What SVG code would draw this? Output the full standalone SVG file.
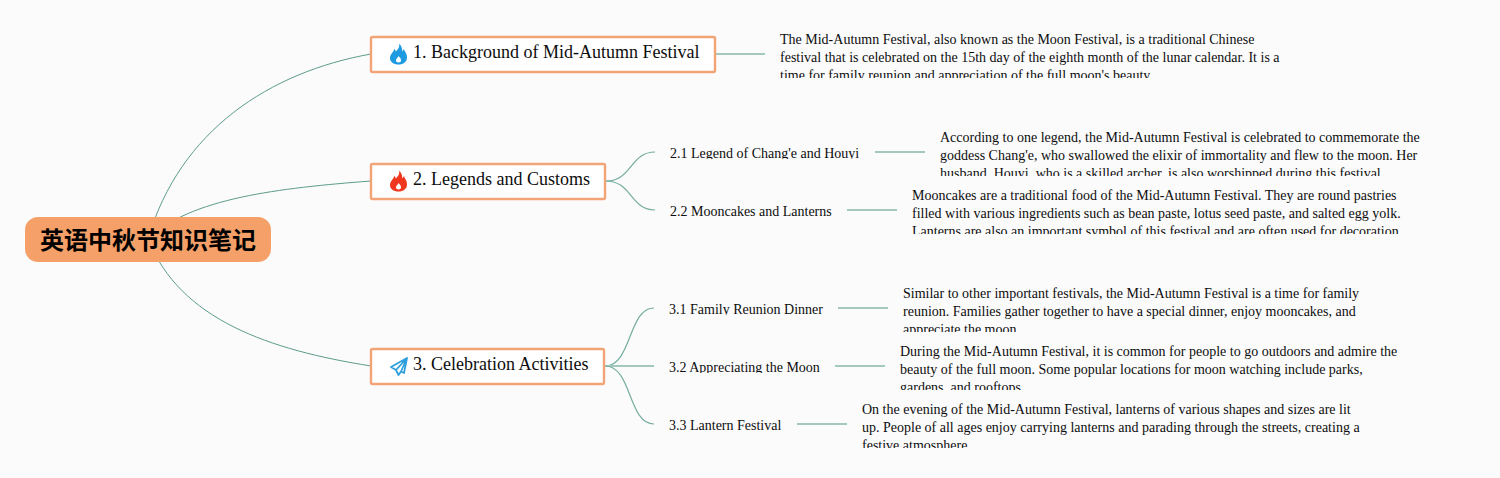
<svg xmlns="http://www.w3.org/2000/svg" width="1500" height="478" viewBox="0 0 1500 478">
<style>
.t{font-family:"Liberation Serif","Times New Roman",serif;fill:#0d0d0d}
.d{font-size:14px}
.s{font-size:14px}
.h{font-size:18px}
.box{fill:#fff;stroke:#f2a477;stroke-width:2.4}
.main{fill:none;stroke:#5c9c8c;stroke-width:1}
.sub{fill:none;stroke:#75ad9e;stroke-width:1.200}
.lead{fill:none;stroke:#a3c9bf;stroke-width:1.800}
</style>
<defs>
<clipPath id="c1"><rect x="770" y="28" width="530" height="50"/></clipPath>
<clipPath id="c2"><rect x="930" y="126" width="500" height="50"/></clipPath>
<clipPath id="c3"><rect x="902" y="184" width="510" height="50"/></clipPath>
<clipPath id="c4"><rect x="893" y="282" width="490" height="50"/></clipPath>
<clipPath id="c5"><rect x="890" y="340" width="520" height="50"/></clipPath>
<clipPath id="c6"><rect x="852" y="398" width="520" height="50"/></clipPath>
<clipPath id="l1"><rect x="660" y="140" width="210" height="19"/></clipPath>
<clipPath id="l2"><rect x="660" y="198" width="210" height="19"/></clipPath>
<clipPath id="l3"><rect x="660" y="296" width="210" height="19"/></clipPath>
<clipPath id="l4"><rect x="660" y="354" width="210" height="19"/></clipPath>
<clipPath id="l5"><rect x="660" y="412" width="210" height="19"/></clipPath>
<path id="flame" fill-rule="evenodd" d="M9 0C10 3.500 8 5.500 6 8C5.500 6.800 5 6 4.200 5.200C4.500 7.500 0 10.500 0 14.500C0 18.500 3.500 21 8.500 21C13.500 21 17 18.300 17 14C17 9.500 15 9 14 5.500C13.300 6.800 12.800 7.500 12.300 8C12.300 5 11.500 2 9 0ZM8.500 19C7 19 6 18 6 16.700C6 15 7.800 14.300 8.500 12.500C9.500 13.800 11 14.800 11 16.700C11 18 10 19 8.500 19Z"/>
</defs>
<rect width="1500" height="478" fill="#fbfbfc"/>
<g id="connectors">
<path class="main" d="M148 239C180 130 270 72 371 54"/>
<path class="main" d="M148 239C190 198 280 188 371 181"/>
<path class="main" d="M148 239C180 320 270 350 371 366"/>
<path class="lead" d="M716 54H765"/>
<path class="sub" d="M606 181C632 181 630 152 655 152"/>
<path class="sub" d="M606 181C632 181 630 210 655 210"/>
<path class="lead" d="M875 152H925"/>
<path class="lead" d="M847 210H897"/>
<path class="sub" d="M605 366C632 366 628 308 654 308"/>
<path class="lead" d="M605 366H654"/>
<path class="sub" d="M605 366C632 366 628 424 654 424"/>
<path class="lead" d="M838 308H888"/>
<path class="lead" d="M835 366H885"/>
<path class="lead" d="M797 424H847"/>
</g>
<g id="root">
<rect x="25" y="217" width="246" height="45" rx="13" fill="#f4a068"/>
<text x="148" y="249" text-anchor="middle" font-family="'Noto Sans CJK SC',sans-serif" font-size="24" font-weight="700" fill="#000">英语中秋节知识笔记</text>
</g>
<g id="n1">
<rect class="box" x="371" y="37" width="344" height="35" rx="1.500"/>
<use href="#flame" x="390" y="43.500" fill="#1d9ae0"/>
<text class="t h" x="413" y="58">1. Background of Mid-Autumn Festival</text>
</g>
<g id="n1d" clip-path="url(#c1)">
<text class="t d" x="780" y="44">The Mid-Autumn Festival, also known as the Moon Festival, is a traditional Chinese</text>
<text class="t d" x="780" y="62">festival that is celebrated on the 15th day of the eighth month of the lunar calendar. It is a</text>
<text class="t d" x="780" y="80">time for family reunion and appreciation of the full moon's beauty.</text>
</g>
<g id="n2">
<rect class="box" x="371" y="164" width="234" height="35" rx="1.500"/>
<use href="#flame" x="390" y="170.500" fill="#f0361c"/>
<text class="t h" x="413" y="185">2. Legends and Customs</text>
</g>
<g id="n21" clip-path="url(#l1)"><text class="t s" x="670" y="158">2.1 Legend of Chang'e and Houyi</text></g>
<g id="n21d" clip-path="url(#c2)">
<text class="t d" x="940" y="142">According to one legend, the Mid-Autumn Festival is celebrated to commemorate the</text>
<text class="t d" x="940" y="160">goddess Chang'e, who swallowed the elixir of immortality and flew to the moon. Her</text>
<text class="t d" x="940" y="178">husband, Houyi, who is a skilled archer, is also worshipped during this festival.</text>
</g>
<g id="n22" clip-path="url(#l2)"><text class="t s" x="670" y="216">2.2 Mooncakes and Lanterns</text></g>
<g id="n22d" clip-path="url(#c3)">
<text class="t d" x="912" y="200">Mooncakes are a traditional food of the Mid-Autumn Festival. They are round pastries</text>
<text class="t d" x="912" y="218">filled with various ingredients such as bean paste, lotus seed paste, and salted egg yolk.</text>
<text class="t d" x="912" y="236">Lanterns are also an important symbol of this festival and are often used for decoration.</text>
</g>
<g id="n3">
<rect class="box" x="371" y="349" width="233" height="35" rx="1.500"/>
<path d="M407 358L391 367L396 370L398.500 375L401 371.500L404 373ZM407 358L396 370M407 358L401 371.500" fill="none" stroke="#2d9fdc" stroke-width="1.800" stroke-linejoin="round"/>
<text class="t h" x="413" y="370">3. Celebration Activities</text>
</g>
<g id="n31" clip-path="url(#l3)"><text class="t s" x="669" y="314">3.1 Family Reunion Dinner</text></g>
<g id="n31d" clip-path="url(#c4)">
<text class="t d" x="903" y="298">Similar to other important festivals, the Mid-Autumn Festival is a time for family</text>
<text class="t d" x="903" y="316">reunion. Families gather together to have a special dinner, enjoy mooncakes, and</text>
<text class="t d" x="903" y="334">appreciate the moon.</text>
</g>
<g id="n32" clip-path="url(#l4)"><text class="t s" x="669" y="372">3.2 Appreciating the Moon</text></g>
<g id="n32d" clip-path="url(#c5)">
<text class="t d" x="900" y="356">During the Mid-Autumn Festival, it is common for people to go outdoors and admire the</text>
<text class="t d" x="900" y="374">beauty of the full moon. Some popular locations for moon watching include parks,</text>
<text class="t d" x="900" y="392">gardens, and rooftops.</text>
</g>
<g id="n33" clip-path="url(#l5)"><text class="t s" x="669" y="430">3.3 Lantern Festival</text></g>
<g id="n33d" clip-path="url(#c6)">
<text class="t d" x="862" y="414">On the evening of the Mid-Autumn Festival, lanterns of various shapes and sizes are lit</text>
<text class="t d" x="862" y="432">up. People of all ages enjoy carrying lanterns and parading through the streets, creating a</text>
<text class="t d" x="862" y="450">festive atmosphere.</text>
</g>
</svg>
